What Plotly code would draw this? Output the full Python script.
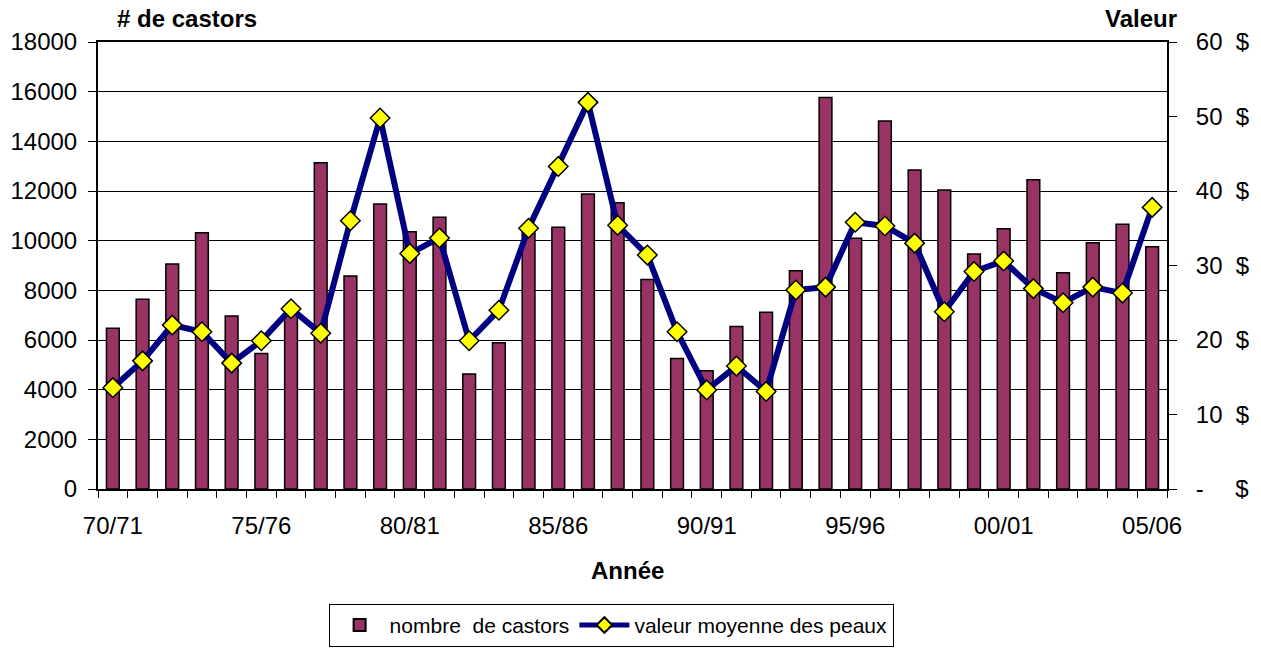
import plotly.graph_objects as go

saisons = ["70/71", "71/72", "72/73", "73/74", "74/75", "75/76", "76/77", "77/78", "78/79", "79/80",
           "80/81", "81/82", "82/83", "83/84", "84/85", "85/86", "86/87", "87/88", "88/89", "89/90",
           "90/91", "91/92", "92/93", "93/94", "94/95", "95/96", "96/97", "97/98", "98/99", "99/00",
           "00/01", "01/02", "02/03", "03/04", "04/05", "05/06"]

nombre_castors = [6470, 7640, 9060, 10320, 6970, 5460, 7140, 13140, 8580, 11480,
                  10360, 10940, 4630, 5890, 10560, 10540, 11880, 11530, 8440, 5260,
                  4760, 6540, 7120, 8790, 15770, 10100, 14820, 12850, 12040, 9460,
                  10480, 12450, 8710, 9920, 10660, 9760]

valeur_moyenne = [13.6, 17.2, 22.0, 21.1, 16.9, 19.9, 24.2, 20.9, 36.0, 49.8,
                  31.6, 33.7, 19.9, 24.0, 35.0, 43.3, 51.9, 35.4, 31.4, 21.1,
                  13.3, 16.5, 13.1, 26.7, 27.1, 35.8, 35.3, 33.0, 23.8, 29.2,
                  30.6, 26.9, 25.0, 27.1, 26.3, 37.8]

etiquettes_x = ["70/71", "75/76", "80/81", "85/86", "90/91", "95/96", "00/01", "05/06"]
ticks_gauche = [0, 2000, 4000, 6000, 8000, 10000, 12000, 14000, 16000, 18000]
ticks_droite = [0, 10, 20, 30, 40, 50, 60]

NB = "\u00a0"
texte_gauche = [str(v) for v in ticks_gauche]
texte_droite = [("-" + NB * 4 + "\u2009$") if v == 0 else (str(v) + NB * 2 + "$") for v in ticks_droite]

idx = list(range(len(saisons)))
pos_labels = [saisons.index(s) for s in etiquettes_x]
bornes = [i - 0.5 for i in range(len(saisons) + 1)]

FONT = "Liberation Sans, Arial, sans-serif"

fig = go.Figure()
fig.add_trace(go.Bar(
    x=idx, y=nombre_castors, name="nombre  de castors",
    marker=dict(color="#993366", line=dict(color="black", width=1.5)),
    width=0.43, yaxis="y", xaxis="x",
))
fig.add_trace(go.Scatter(
    x=idx, y=valeur_moyenne, name="valeur moyenne des peaux",
    mode="lines+markers",
    line=dict(color="#000080", width=6),
    marker=dict(symbol="diamond", size=15, color="#FFFF00", line=dict(color="black", width=1.5)),
    yaxis="y2", xaxis="x",
))
# overlay axis carrying the category-boundary tick marks
fig.add_trace(go.Scatter(x=[None], y=[None], xaxis="x2", yaxis="y", showlegend=False, hoverinfo="skip"))

fig.update_layout(
    width=1261, height=651,
    margin=dict(l=98, r=94, t=42, b=162, autoexpand=False),
    plot_bgcolor="white", paper_bgcolor="white",
    font=dict(family=FONT, size=24, color="black"),
    showlegend=True,
    legend=dict(
        orientation="h", x=0.48, xanchor="center", y=-0.257, yanchor="top",
        bordercolor="black", borderwidth=1, font=dict(size=21),
        itemsizing="constant", tracegroupgap=0, itemwidth=50,
    ),
    xaxis=dict(
        range=[-0.5, len(saisons) - 0.5], tickmode="array",
        tickvals=pos_labels, ticktext=etiquettes_x, ticks="",
        showline=True, linecolor="black", linewidth=2, mirror=True,
        showgrid=False, zeroline=False, tickfont=dict(size=24),
        ticklabelstandoff=14, automargin=False,
    ),
    xaxis2=dict(
        overlaying="x", matches="x", side="bottom", anchor="y",
        tickmode="array", tickvals=bornes, ticks="outside", ticklen=8,
        tickcolor="black", tickwidth=1, showticklabels=False,
        showgrid=False, zeroline=False, showline=False, automargin=False,
    ),
    yaxis=dict(
        range=[0, 18000], tickmode="array", tickvals=ticks_gauche, ticktext=texte_gauche,
        ticks="outside", ticklen=8, tickcolor="black",
        showline=True, linecolor="black", linewidth=2,
        showgrid=True, gridcolor="black", gridwidth=1, zeroline=False,
        tickfont=dict(size=24), ticklabelstandoff=6, automargin=False,
    ),
    yaxis2=dict(
        range=[0, 60], tickmode="array", tickvals=ticks_droite, ticktext=texte_droite,
        overlaying="y", side="right", anchor="x",
        ticks="outside", ticklen=8, tickcolor="black",
        showline=True, linecolor="black", linewidth=2,
        showgrid=False, zeroline=False, tickfont=dict(size=24),
        ticklabelstandoff=14, automargin=False,
    ),
    annotations=[
        dict(text="<b># de castors</b>", xref="paper", yref="paper", x=0.083, y=1.0,
             xanchor="center", yanchor="bottom", yshift=8, showarrow=False, font=dict(size=24)),
        dict(text="<b>Valeur</b>", xref="paper", yref="paper", x=0.976, y=1.0,
             xanchor="center", yanchor="bottom", yshift=8, showarrow=False, font=dict(size=24)),
        dict(text="<b>Année</b>", xref="paper", yref="paper", x=0.495, y=0,
             xanchor="center", yanchor="middle", yshift=-81, showarrow=False, font=dict(size=24)),
    ],
)

fig.write_html(
    "out.html",
    config={"displayModeBar": False},
    post_script="document.body.style.margin='0';document.body.style.overflow='hidden';",
)
